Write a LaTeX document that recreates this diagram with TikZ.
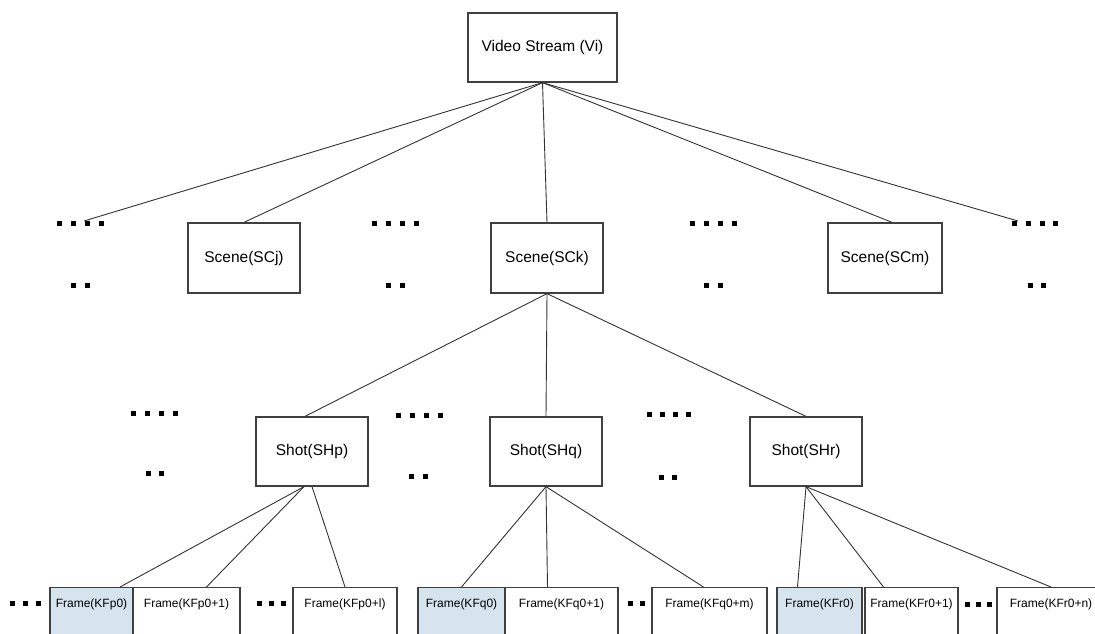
\documentclass[tikz,border=0pt]{standalone}
\usepackage{fontspec}
\setmainfont{Liberation Sans}
\definecolor{keyblue}{RGB}{214,228,237}
\begin{document}
\begin{tikzpicture}[x=1pt, y=-1pt,
  box/.style={draw=black!75, line width=1.3pt, fill=white, minimum width=112pt, minimum height=70pt, font=\fontsize{15.5}{18}\selectfont},
  frm/.style={draw=black!75, line width=1.1pt, fill=white, anchor=north, inner xsep=0pt, inner ysep=4pt, text height=16pt, text depth=48pt, font=\fontsize{12}{14}\selectfont},
  key/.style={frm, fill=keyblue},
  ln/.style={black!80, line width=0.9pt}]
\fill[white] (0,0) rectangle (1095,634);
\useasboundingbox (0,0) rectangle (1095,634);
\clip (0,0) rectangle (1095,634);

% dots, scene row
\foreach \x in {59,73,87,101} \fill (\x-2.5,220.5) rectangle ++(5,5);
\foreach \x in {73,87} \fill (\x-2.5,282.5) rectangle ++(5,5);
\foreach \x in {374,388,402,416} \fill (\x-2.5,220.5) rectangle ++(5,5);
\foreach \x in {388,402} \fill (\x-2.5,282.5) rectangle ++(5,5);
\foreach \x in {692,706,720,734} \fill (\x-2.5,220.5) rectangle ++(5,5);
\foreach \x in {706,720} \fill (\x-2.5,282.5) rectangle ++(5,5);
\foreach \x in {1014,1028,1042,1055} \fill (\x-2.5,220.5) rectangle ++(5,5);
\foreach \x in {1030,1043} \fill (\x-2.5,282.5) rectangle ++(5,5);
\coordinate (dl) at (84,221);
\coordinate (dr) at (1018,221);

% dots, shot row
\foreach \x in {133,147,161,175} \fill (\x-2.5,411) rectangle ++(5,5);
\foreach \x in {148,161} \fill (\x-2.5,471) rectangle ++(5,5);
\foreach \x in {398,412,426,440} \fill (\x-2.5,413) rectangle ++(5,5);
\foreach \x in {411,425} \fill (\x-2.5,474) rectangle ++(5,5);
\foreach \x in {649,662,675,688} \fill (\x-2.5,412) rectangle ++(5,5);
\foreach \x in {661,674} \fill (\x-2.5,475) rectangle ++(5,5);

% dots, frame row
\foreach \x in {12,25,38} \fill (\x-2.5,601) rectangle ++(5,5);
\foreach \x in {259,271,283} \fill (\x-2.5,601) rectangle ++(5,5);
\foreach \x in {630,642,654} \fill (\x-2.5,601) rectangle ++(5,5);
\foreach \x in {967,978,989} \fill (\x-2.5,602) rectangle ++(5,5);

\node[box, minimum width=149pt, minimum height=69pt] (vi) at (542.5,47.5) {Video Stream (Vi)};

\node[box] (scj) at (244,258) {Scene(SCj)};
\node[box] (sck) at (547,258) {Scene(SCk)};
\node[box, minimum width=114pt] (scm) at (885,258) {Scene(SCm)};

\node[box, minimum height=69pt] (shp) at (312,451.5) {Shot(SHp)};
\node[box, minimum height=69pt] (shq) at (546,451.5) {Shot(SHq)};
\node[box, minimum height=69pt] (shr) at (806,451.5) {Shot(SHr)};

\node[key, minimum width=83pt] (kfp0) at (91.5,587) {Frame(KFp0)};
\node[frm, minimum width=107pt] (kfp1) at (186.5,587) {Frame(KFp0+1)};
\node[frm, minimum width=104pt] (kfpl) at (345,587) {Frame(KFp0+l)};
\node[key, minimum width=87pt] (kfq0) at (461.5,587) {Frame(KFq0)};
\node[frm, minimum width=113pt] (kfq1) at (561.5,587) {Frame(KFq0+1)};
\node[frm, minimum width=115pt] (kfqm) at (709.5,587) {Frame(KFq0+m)};
\node[key, minimum width=85pt] (kfr0) at (819.5,587) {Frame(KFr0)};
\node[frm, minimum width=93pt] (kfr1) at (911.5,587) {Frame(KFr0+1)};
\node[frm, minimum width=108pt] (kfrn) at (1051,587) {Frame(KFr0+n)};

\draw[ln] (vi.south) -- (dl);
\draw[ln] (vi.south) -- (scj.north);
\draw[ln] (vi.south) -- (sck.north);
\draw[ln] (vi.south) -- ([xshift=7pt]scm.north);
\draw[ln] (vi.south) -- (dr);

\draw[ln] (sck.south) -- ([xshift=-7pt]shp.north);
\draw[ln] (sck.south) -- (shq.north);
\draw[ln] (sck.south) -- (shr.north);

\draw[ln] ([xshift=-8pt]shp.south) -- ([xshift=28.5pt]kfp0.north);
\draw[ln] ([xshift=-8pt]shp.south) -- ([xshift=20pt]kfp1.north);
\draw[ln] (shp.south) -- (kfpl.north);
\draw[ln] (shq.south) -- (kfq0.north);
\draw[ln] (shq.south) -- ([xshift=-14pt]kfq1.north);
\draw[ln] (shq.south) -- ([xshift=-6pt]kfqm.north);
\draw[ln] (shr.south) -- ([xshift=-22pt]kfr0.north);
\draw[ln] (shr.south) -- ([xshift=-28pt]kfr1.north);
\draw[ln] (shr.south) -- (kfrn.north);
\end{tikzpicture}
\end{document}
